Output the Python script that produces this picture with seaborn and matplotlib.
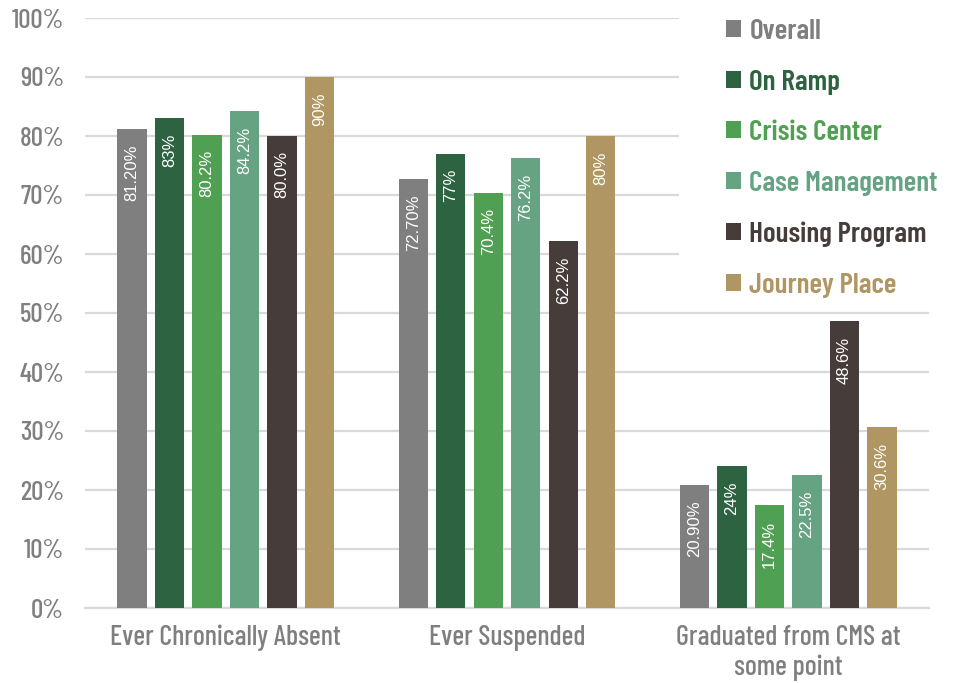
import matplotlib
matplotlib.use("Agg")
import matplotlib.pyplot as plt
from matplotlib import font_manager
from matplotlib.patches import Rectangle
import seaborn as sns
import pandas as pd

categories = ["Ever Chronically Absent", "Ever Suspended", "Graduated from CMS at\nsome point"]
series = ["Overall", "On Ramp", "Crisis Center", "Case Management", "Housing Program", "Journey Place"]
overall = [81.2, 72.7, 20.9]
on_ramp = [83, 77, 24]
crisis_center = [80.2, 70.4, 17.4]
case_management = [84.2, 76.2, 22.5]
housing_program = [80.0, 62.2, 48.6]
journey_place = [90, 80, 30.6]
label_text = {
    "Overall": ["81.20%", "72.70%", "20.90%"],
    "On Ramp": ["83%", "77%", "24%"],
    "Crisis Center": ["80.2%", "70.4%", "17.4%"],
    "Case Management": ["84.2%", "76.2%", "22.5%"],
    "Housing Program": ["80.0%", "62.2%", "48.6%"],
    "Journey Place": ["90%", "80%", "30.6%"],
}
colors = ["#7F7F7F", "#2D6340", "#4FA052", "#66A382", "#463D3A", "#B09662"]
yticks = [0, 10, 20, 30, 40, 50, 60, 70, 80, 90, 100]
ytick_labels = [f"{v}%" for v in yticks]

values = [overall, on_ramp, crisis_center, case_management, housing_program, journey_place]
rows = []
for s, vals in zip(series, values):
    for c, v in zip(categories, vals):
        rows.append({"category": c, "series": s, "value": v})
df = pd.DataFrame(rows)

sns.set_theme(style="white")
names = {f.name for f in font_manager.fontManager.ttflist}
cond_font = "Barlow Condensed" if "Barlow Condensed" in names else "DejaVu Sans"
plt.rcParams["font.family"] = [cond_font, "DejaVu Sans"]
gray = "#7F7F7F"
grid_c = "#D9D9D9"

fig = plt.figure(figsize=(9.54, 6.83), dpi=100)
ax = fig.add_axes([85 / 954, 1 - 608 / 683, (929 - 85) / 954, (608 - 18) / 683])

palette = dict(zip(series, colors))
sns.barplot(data=df, x="category", y="value", hue="series", order=categories,
            hue_order=series, palette=palette, width=0.8, gap=0.22,
            linewidth=0, saturation=1, ax=ax, legend=True, zorder=3)

ax.set_ylim(0, 100)
ax.set_yticks(yticks)
ax.set_yticklabels(ytick_labels)
ax.yaxis.grid(True, color=grid_c, linewidth=1.6, zorder=0)
ax.set_axisbelow(True)
for sp in ["left", "right", "top"]:
    ax.spines[sp].set_visible(False)
ax.spines["bottom"].set_color(grid_c)
ax.spines["bottom"].set_linewidth(1.6)
ax.set_xlabel("")
ax.set_ylabel("")
ax.tick_params(axis="y", length=0, pad=15, labelsize=19.5, labelcolor=gray)
ax.tick_params(axis="x", length=0, pad=12, labelsize=20.2, labelcolor=gray)
for t in ax.get_xticklabels() + ax.get_yticklabels():
    t.set_fontweight(500)
for t in ax.get_xticklabels():
    t.set_linespacing(1.18)

# bar value labels
for container, s in zip(ax.containers, series):
    for bar, txt in zip(container, label_text[s]):
        x = bar.get_x() + bar.get_width() / 2
        ax.annotate(txt, (x, bar.get_height()), xytext=(0, -11), textcoords="offset points",
                    rotation=90, ha="center", va="top", color="white", fontsize=12,
                    family="Liberation Sans", zorder=5)

# white backdrop behind legend
ax.add_patch(Rectangle((0.704, 0.55), 0.4, 0.5, transform=ax.transAxes, facecolor="white",
                       edgecolor="none", zorder=1, clip_on=False))

handles, labels = ax.get_legend_handles_labels()
ax.legend_.remove()
leg = fig.legend(handles, labels, loc="upper left", bbox_to_anchor=(726 / 954, 1 - 19 / 683),
                 frameon=False, prop={"size": 21, "weight": 600}, handlelength=0.52, handleheight=0.52,
                 handletextpad=0.28, labelspacing=0.88, borderpad=0, borderaxespad=0)
for t, c in zip(leg.get_texts(), colors):
    t.set_color(c)

fig.savefig("out.png", dpi=100)
